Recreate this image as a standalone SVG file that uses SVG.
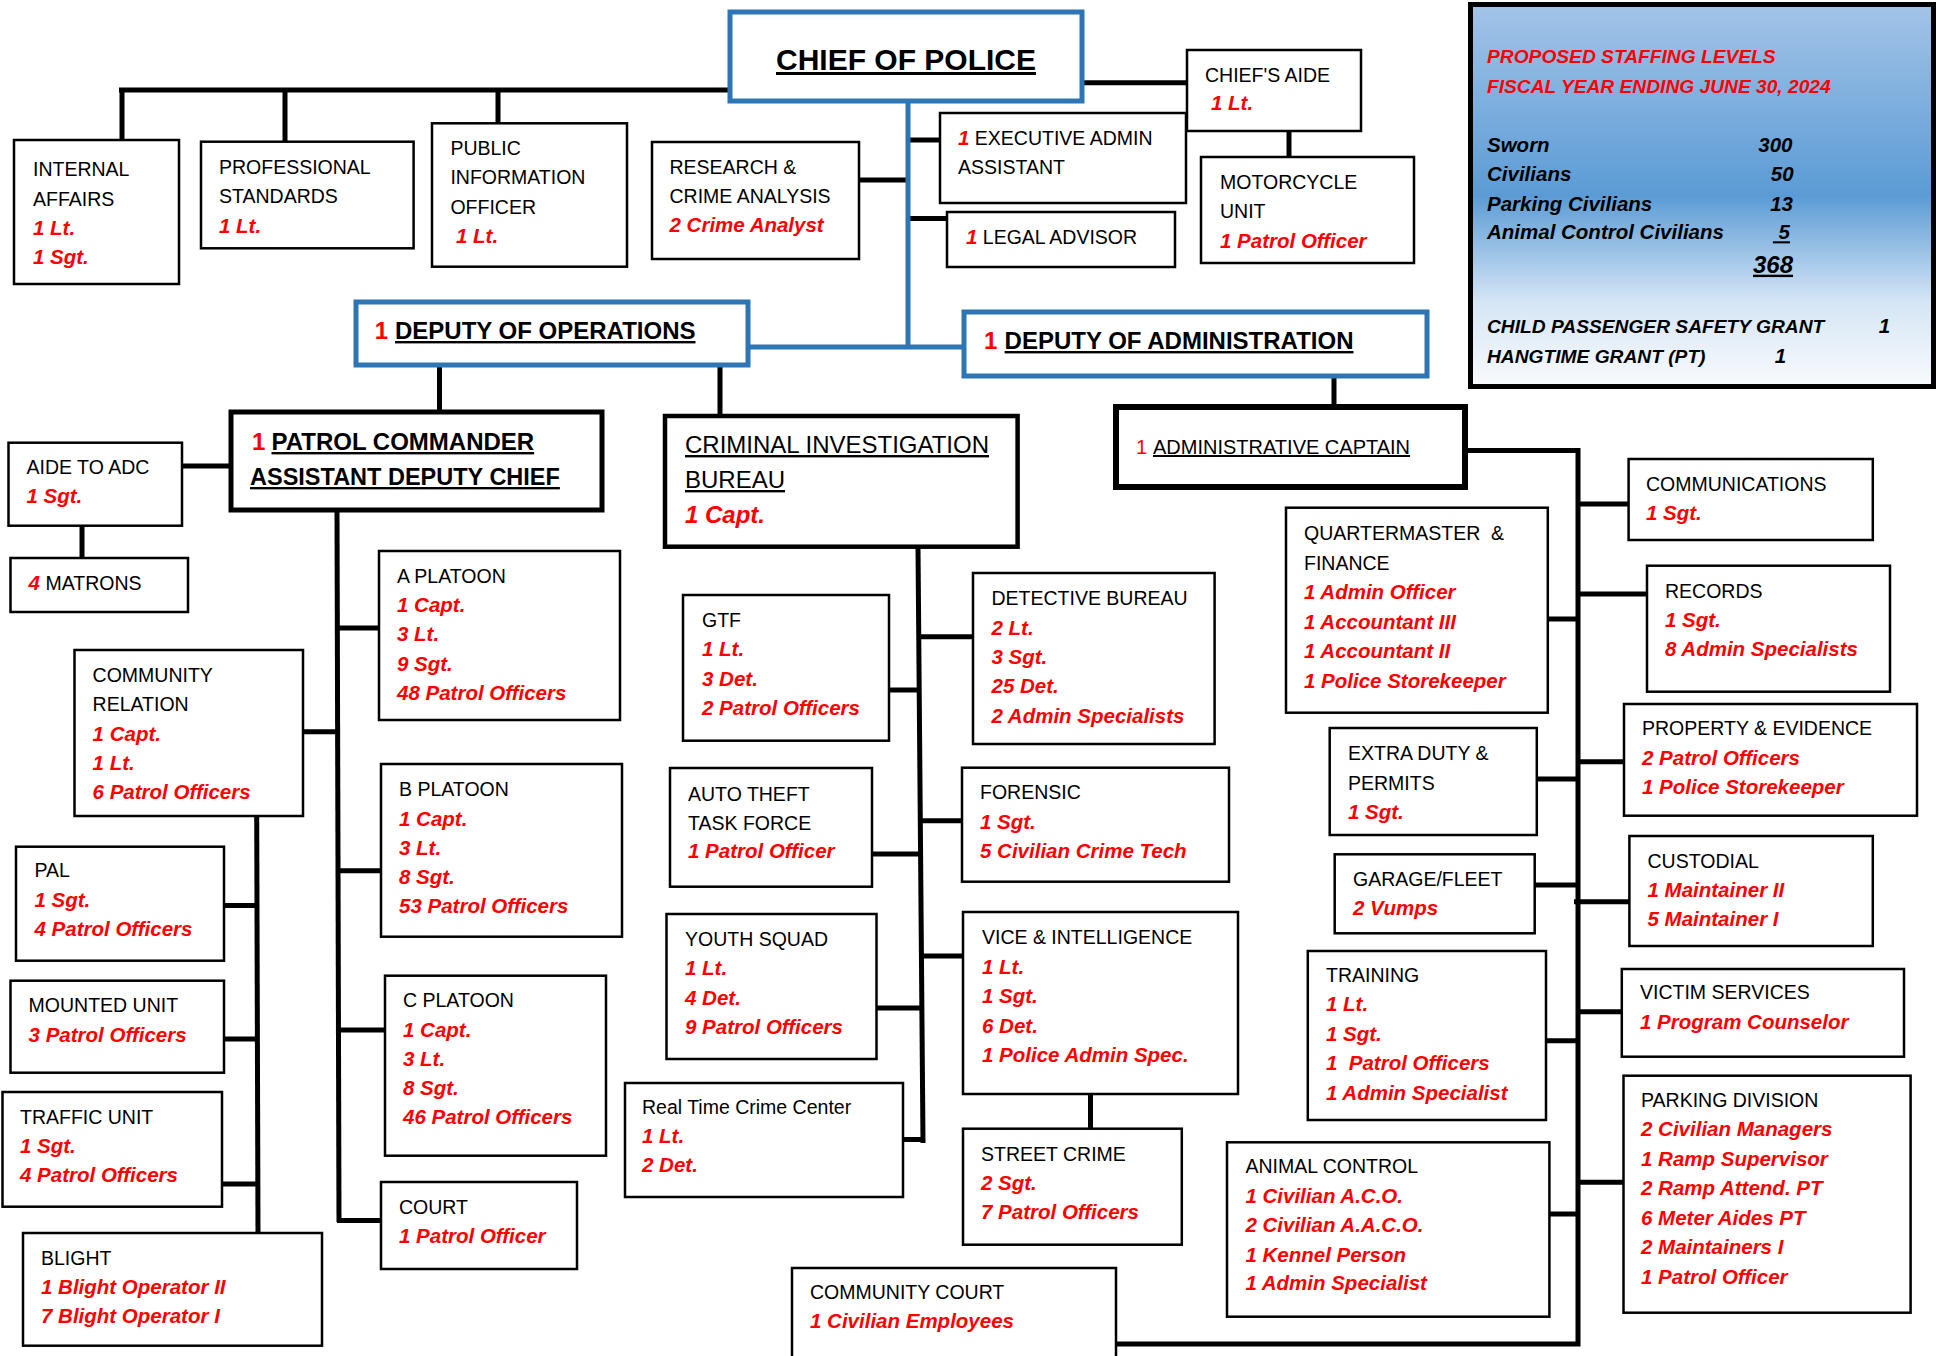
<svg xmlns="http://www.w3.org/2000/svg" width="1940" height="1356" viewBox="0 0 1940 1356">
<defs>
<linearGradient id="gstaff" x1="0" y1="0" x2="0" y2="1">
<stop offset="0" stop-color="#A3C4E8"/>
<stop offset="0.5" stop-color="#5B9BD5"/>
<stop offset="0.78" stop-color="#D6E6F5"/>
<stop offset="1" stop-color="#F8FAFD"/>
</linearGradient>
</defs>
<style>
.b{fill:#fff;stroke:#000;stroke-width:2.5}
.k{fill:#fff;stroke:#000;stroke-width:5}
.u{fill:#fff;stroke:#2E75B6;stroke-width:5}
#connectors path{fill:none;stroke:#000;stroke-width:5}
#connectors path.blue{stroke:#2E75B6}
text{font-family:"Liberation Sans",Arial,sans-serif}
.n{font-size:19.5px;fill:#000}
.r{font-size:20.5px;fill:#f00;font-weight:bold;font-style:italic}
.h{font-size:24px;font-weight:bold;fill:#000}
.red{fill:#f00}
.ul{text-decoration:underline}
.s{font-size:19.2px;font-weight:bold;font-style:italic}
.sk{font-size:20.5px;font-weight:bold;font-style:italic;fill:#000}
</style>
<rect width="1940" height="1356" fill="#fff"/>
<g id="connectors">
<path d="M119 90H730"/>
<path d="M122 90V140M285 90V142M498 90V123"/>
<path d="M1082 82.7H1187"/>
<path d="M1289 131V157"/>
<path d="M859 180H910"/>
<path d="M906 140H940"/>
<path d="M906 218.5H947"/>
<path class="blue" d="M908 101V349"/>
<path class="blue" d="M748 347H964"/>
<path d="M439.5 365V412M720 365V416"/>
<path d="M1334 376V407"/>
<path d="M182 466H231"/>
<path d="M82 526V558"/>
<path d="M337 510L339 1222"/>
<path d="M337 628H379M303 731.7H338M337 870.7H381M338 1030H385M337 1220.5H381"/>
<path d="M256.7 816L258 1233"/>
<path d="M224 905.5H259M224 1039H259M222 1184H259"/>
<path d="M918 547L923 1143"/>
<path d="M889 690H919M917 636.7H973M872 854H921M919 820.7H962M876.6 1008H922M921 956H963M903 1139.5H923"/>
<path d="M1090.5 1094V1129"/>
<path d="M1465 450.5H1580.5M1578 448V1346.5M1116 1344H1580.5"/>
<path d="M1578 504H1629M1578 594H1647M1548 619H1578M1537 779H1578M1578 761.7H1624M1535 885H1578M1574 901.7H1629M1546 1040.7H1578M1578 1011.7H1622M1549 1214H1578M1578 1182.3H1623.5"/>
</g>

<g id="chief-of-police"><rect class="u" x="730" y="12" width="352" height="89"/>
<text class="h ul" x="906" y="70" text-anchor="middle" style="font-size:30px">CHIEF OF POLICE</text></g>

<g id="chiefs-aide"><rect class="b" x="1187" y="50" width="174" height="81"/>
<text class="n" x="1205" y="82">CHIEF'S AIDE</text><text class="r" x="1211" y="110">1 Lt.</text></g>

<g id="motorcycle-unit"><rect class="b" x="1201" y="157" width="213" height="106"/>
<text class="n" x="1220" y="189">MOTORCYCLE</text><text class="n" x="1220" y="218">UNIT</text><text class="r" x="1220" y="248">1 Patrol Officer</text></g>

<g id="executive-admin"><rect class="b" x="940" y="113" width="246" height="90"/>
<text class="n" x="958" y="145"><tspan class="r">1</tspan> EXECUTIVE ADMIN</text><text class="n" x="958" y="174">ASSISTANT</text></g>

<g id="research"><rect class="b" x="652" y="142" width="207" height="117"/>
<text class="n" x="669.5" y="174">RESEARCH &amp;</text><text class="n" x="669.5" y="203">CRIME ANALYSIS</text><text class="r" x="669.5" y="232">2 Crime Analyst</text></g>

<g id="legal-advisor"><rect class="b" x="947" y="212" width="228" height="55"/>
<text class="n" x="966" y="244"><tspan class="r">1</tspan> LEGAL ADVISOR</text></g>

<g id="internal-affairs"><rect class="b" x="14" y="140" width="165" height="144"/>
<text class="n" x="33" y="176">INTERNAL</text><text class="n" x="33" y="205.7">AFFAIRS</text><text class="r" x="33" y="235">1 Lt.</text><text class="r" x="33" y="264.3">1 Sgt.</text></g>

<g id="professional-standards"><rect class="b" x="201" y="141.7" width="212.6" height="106.6"/>
<text class="n" x="219" y="174">PROFESSIONAL</text><text class="n" x="219" y="203.3">STANDARDS</text><text class="r" x="219" y="232.7">1 Lt.</text></g>

<g id="public-information"><rect class="b" x="432" y="123.3" width="195" height="143.4"/>
<text class="n" x="450.4" y="155">PUBLIC</text><text class="n" x="450.4" y="184.3">INFORMATION</text><text class="n" x="450.4" y="213.7">OFFICER</text><text class="r" x="456" y="242.7">1 Lt.</text></g>

<g id="deputy-operations"><rect class="u" x="356" y="302" width="392" height="63"/>
<text class="h" x="374.7" y="339"><tspan class="red">1</tspan></text><text class="h ul" x="395" y="339">DEPUTY OF OPERATIONS</text></g>

<g id="deputy-administration"><rect class="u" x="964" y="312" width="463" height="64"/>
<text class="h" x="984" y="349"><tspan class="red">1</tspan></text><text class="h ul" x="1004.6" y="349">DEPUTY OF ADMINISTRATION</text></g>

<g id="patrol-commander"><rect class="k" x="231" y="412" width="371" height="98"/>
<text class="h" x="252" y="450"><tspan class="red">1</tspan></text><text class="h ul" x="271.5" y="450">PATROL COMMANDER</text>
<text class="h ul" x="250" y="485" style="font-size:23.5px">ASSISTANT DEPUTY CHIEF</text></g>

<g id="aide-to-adc"><rect class="b" x="8.5" y="442.7" width="173.5" height="83"/>
<text class="n" x="26.5" y="474">AIDE TO ADC</text><text class="r" x="26.5" y="503">1 Sgt.</text></g>

<g id="matrons"><rect class="b" x="10.5" y="558" width="177.5" height="54"/>
<text class="n" x="28.6" y="590"><tspan class="r">4</tspan> MATRONS</text></g>

<g id="a-platoon"><rect class="b" x="379" y="551" width="241" height="169"/>
<text class="n" x="397" y="582.7">A PLATOON</text><text class="r" x="397" y="612">1 Capt.</text><text class="r" x="397" y="641">3 Lt.</text><text class="r" x="397" y="670.5">9 Sgt.</text><text class="r" x="397" y="699.5">48 Patrol Officers</text></g>

<g id="community-relation"><rect class="b" x="74.5" y="650" width="228.5" height="166"/>
<text class="n" x="92.6" y="682">COMMUNITY</text><text class="n" x="92.6" y="711">RELATION</text><text class="r" x="92.6" y="740.7">1 Capt.</text><text class="r" x="92.6" y="770">1 Lt.</text><text class="r" x="92.6" y="799">6 Patrol Officers</text></g>

<g id="b-platoon"><rect class="b" x="381" y="764" width="241" height="172.7"/>
<text class="n" x="399" y="796">B PLATOON</text><text class="r" x="399" y="825.7">1 Capt.</text><text class="r" x="399" y="855">3 Lt.</text><text class="r" x="399" y="884">8 Sgt.</text><text class="r" x="399" y="913.3">53 Patrol Officers</text></g>

<g id="pal"><rect class="b" x="16" y="846.7" width="208" height="114"/>
<text class="n" x="34.5" y="877">PAL</text><text class="r" x="34.5" y="906.5">1 Sgt.</text><text class="r" x="34.5" y="936">4 Patrol Officers</text></g>

<g id="mounted-unit"><rect class="b" x="10.5" y="980.7" width="213.5" height="92"/>
<text class="n" x="28.6" y="1012">MOUNTED UNIT</text><text class="r" x="28.6" y="1041.7">3 Patrol Officers</text></g>

<g id="traffic-unit"><rect class="b" x="2.5" y="1092" width="219.5" height="114.7"/>
<text class="n" x="20" y="1124">TRAFFIC UNIT</text><text class="r" x="20" y="1153">1 Sgt.</text><text class="r" x="20" y="1182">4 Patrol Officers</text></g>

<g id="blight"><rect class="b" x="23" y="1233" width="299" height="112.7"/>
<text class="n" x="41" y="1265">BLIGHT</text><text class="r" x="41" y="1294">1 Blight Operator II</text><text class="r" x="41" y="1323">7 Blight Operator I</text></g>

<g id="c-platoon"><rect class="b" x="385" y="975.7" width="221" height="180"/>
<text class="n" x="403" y="1007">C PLATOON</text><text class="r" x="403" y="1036.7">1 Capt.</text><text class="r" x="403" y="1066">3 Lt.</text><text class="r" x="403" y="1095">8 Sgt.</text><text class="r" x="403" y="1123.5">46 Patrol Officers</text></g>

<g id="court"><rect class="b" x="381" y="1182" width="196" height="87"/>
<text class="n" x="399" y="1214">COURT</text><text class="r" x="399" y="1243">1 Patrol Officer</text></g>

<g id="criminal-investigation"><rect class="k" x="665" y="416" width="352.6" height="130.7" style="stroke-width:4.5"/>
<text class="n ul" x="685" y="453" style="font-size:24px">CRIMINAL INVESTIGATION</text><text class="n ul" x="685" y="488" style="font-size:24px">BUREAU</text><text class="r" x="685" y="523" style="font-size:24px">1 Capt.</text></g>

<g id="gtf"><rect class="b" x="683" y="595" width="206" height="145.7"/>
<text class="n" x="702" y="627">GTF</text><text class="r" x="702" y="656">1 Lt.</text><text class="r" x="702" y="686">3 Det.</text><text class="r" x="702" y="715">2 Patrol Officers</text></g>

<g id="detective-bureau"><rect class="b" x="973" y="573" width="241.6" height="171"/>
<text class="n" x="991.5" y="605">DETECTIVE BUREAU</text><text class="r" x="991.5" y="634.7">2 Lt.</text><text class="r" x="991.5" y="664">3 Sgt.</text><text class="r" x="991.5" y="693">25 Det.</text><text class="r" x="991.5" y="722.7">2 Admin Specialists</text></g>

<g id="auto-theft"><rect class="b" x="670" y="768" width="202" height="118.7"/>
<text class="n" x="688" y="801">AUTO THEFT</text><text class="n" x="688" y="830">TASK FORCE</text><text class="r" x="688" y="858.3">1 Patrol Officer</text></g>

<g id="forensic"><rect class="b" x="962" y="767.7" width="267" height="114"/>
<text class="n" x="980" y="799">FORENSIC</text><text class="r" x="980" y="828.7">1 Sgt.</text><text class="r" x="980" y="858">5 Civilian Crime Tech</text></g>

<g id="youth-squad"><rect class="b" x="666.5" y="914" width="210" height="145"/>
<text class="n" x="685" y="945.7">YOUTH SQUAD</text><text class="r" x="685" y="975">1 Lt.</text><text class="r" x="685" y="1004.7">4 Det.</text><text class="r" x="685" y="1034">9 Patrol Officers</text></g>

<g id="vice-intelligence"><rect class="b" x="963" y="912" width="275" height="182"/>
<text class="n" x="982" y="944">VICE &amp; INTELLIGENCE</text><text class="r" x="982" y="973.7">1 Lt.</text><text class="r" x="982" y="1003">1 Sgt.</text><text class="r" x="982" y="1032.7">6 Det.</text><text class="r" x="982" y="1062">1 Police Admin Spec.</text></g>

<g id="street-crime"><rect class="b" x="963" y="1128.7" width="218.8" height="116"/>
<text class="n" x="981" y="1160.7">STREET CRIME</text><text class="r" x="981" y="1190">2 Sgt.</text><text class="r" x="981" y="1219">7 Patrol Officers</text></g>

<g id="real-time-crime-center"><rect class="b" x="625" y="1083" width="278" height="114"/>
<text class="n" x="642" y="1114">Real Time Crime Center</text><text class="r" x="642" y="1142.7">1 Lt.</text><text class="r" x="642" y="1172">2 Det.</text></g>

<g id="community-court"><rect class="b" x="792" y="1268" width="324" height="100"/>
<text class="n" x="810" y="1299">COMMUNITY COURT</text><text class="r" x="810" y="1328">1 Civilian Employees</text></g>

<g id="administrative-captain"><rect class="k" x="1116" y="407" width="349" height="80" style="stroke-width:6"/>
<text class="n" x="1136" y="454" style="font-size:20px"><tspan class="red">1</tspan></text><text class="n ul" x="1153" y="454" style="font-size:20px">ADMINISTRATIVE CAPTAIN</text></g>

<g id="communications"><rect class="b" x="1628.6" y="459" width="244.2" height="81"/>
<text class="n" x="1646" y="491">COMMUNICATIONS</text><text class="r" x="1646" y="520">1 Sgt.</text></g>

<g id="records"><rect class="b" x="1647" y="565.7" width="243" height="126"/>
<text class="n" x="1665" y="597.7">RECORDS</text><text class="r" x="1665" y="627">1 Sgt.</text><text class="r" x="1665" y="656">8 Admin Specialists</text></g>

<g id="quartermaster-finance"><rect class="b" x="1286" y="507.7" width="261.8" height="205"/>
<text class="n" x="1304" y="540">QUARTERMASTER&#160; &amp;</text><text class="n" x="1304" y="569.7">FINANCE</text><text class="r" x="1304" y="599">1 Admin Officer</text><text class="r" x="1304" y="628.7">1 Accountant III</text><text class="r" x="1304" y="658">1 Accountant II</text><text class="r" x="1304" y="687.5">1 Police Storekeeper</text></g>

<g id="extra-duty-permits"><rect class="b" x="1329.7" y="728" width="207.1" height="107"/>
<text class="n" x="1348" y="760">EXTRA DUTY &amp;</text><text class="n" x="1348" y="789.7">PERMITS</text><text class="r" x="1348" y="819">1 Sgt.</text></g>

<g id="property-evidence"><rect class="b" x="1624" y="704" width="293" height="111.7"/>
<text class="n" x="1642" y="735">PROPERTY &amp; EVIDENCE</text><text class="r" x="1642" y="764.7">2 Patrol Officers</text><text class="r" x="1642" y="794">1 Police Storekeeper</text></g>

<g id="garage-fleet"><rect class="b" x="1334.7" y="854.3" width="200" height="79"/>
<text class="n" x="1353" y="885.7">GARAGE/FLEET</text><text class="r" x="1353" y="915">2 Vumps</text></g>

<g id="custodial"><rect class="b" x="1629.4" y="836" width="243.4" height="110"/>
<text class="n" x="1647.5" y="867.7">CUSTODIAL</text><text class="r" x="1647.5" y="897">1 Maintainer II</text><text class="r" x="1647.5" y="925.7">5 Maintainer I</text></g>

<g id="training"><rect class="b" x="1307.8" y="951" width="238.2" height="169"/>
<text class="n" x="1326" y="981.7">TRAINING</text><text class="r" x="1326" y="1011">1 Lt.</text><text class="r" x="1326" y="1040.7">1 Sgt.</text><text class="r" x="1326" y="1070">1&#160; Patrol Officers</text><text class="r" x="1326" y="1100">1 Admin Specialist</text></g>

<g id="victim-services"><rect class="b" x="1621.8" y="969" width="282.2" height="87.7"/>
<text class="n" x="1640" y="999">VICTIM SERVICES</text><text class="r" x="1640" y="1029">1 Program Counselor</text></g>

<g id="animal-control"><rect class="b" x="1227" y="1142.3" width="322.4" height="174.4"/>
<text class="n" x="1245.4" y="1173">ANIMAL CONTROL</text><text class="r" x="1245.4" y="1202.7">1 Civilian A.C.O.</text><text class="r" x="1245.4" y="1232">2 Civilian A.A.C.O.</text><text class="r" x="1245.4" y="1261.7">1 Kennel Person</text><text class="r" x="1245.4" y="1290">1 Admin Specialist</text></g>

<g id="parking-division"><rect class="b" x="1623.5" y="1075.7" width="287.1" height="237"/>
<text class="n" x="1641" y="1106.7">PARKING DIVISION</text><text class="r" x="1641" y="1136">2 Civilian Managers</text><text class="r" x="1641" y="1165.7">1 Ramp Supervisor</text><text class="r" x="1641" y="1195">2 Ramp Attend. PT</text><text class="r" x="1641" y="1224.7">6 Meter Aides PT</text><text class="r" x="1641" y="1254">2 Maintainers I</text><text class="r" x="1641" y="1283.5">1 Patrol Officer</text></g>

<g id="staffing-levels"><rect x="1470.5" y="4.5" width="463" height="382" fill="url(#gstaff)" stroke="#000" stroke-width="5"/>
<text class="s red" x="1487" y="63.3">PROPOSED STAFFING LEVELS</text>
<text class="s red" x="1487" y="93.3">FISCAL YEAR ENDING JUNE 30, 2024</text>
<text class="sk" x="1487" y="151.7">Sworn</text><text class="sk" x="1792.5" y="151.7" text-anchor="end">300</text>
<text class="sk" x="1487" y="180.7">Civilians</text><text class="sk" x="1793.6" y="180.7" text-anchor="end">50</text>
<text class="sk" x="1487" y="210.7">Parking Civilians</text><text class="sk" x="1793" y="210.7" text-anchor="end">13</text>
<text class="sk" x="1487" y="239.3">Animal Control Civilians</text><text class="sk ul" x="1790" y="239.3" text-anchor="end">&#160;5</text>
<text class="sk ul" x="1753" y="272.7" style="font-size:24px">368</text>
<text class="s" x="1487" y="333.3">CHILD PASSENGER SAFETY GRANT</text><text class="sk" x="1878.7" y="333.3">1</text>
<text class="s" x="1487" y="362.7">HANGTIME GRANT (PT)</text><text class="sk" x="1774.7" y="362.7">1</text>
</g>
</svg>
